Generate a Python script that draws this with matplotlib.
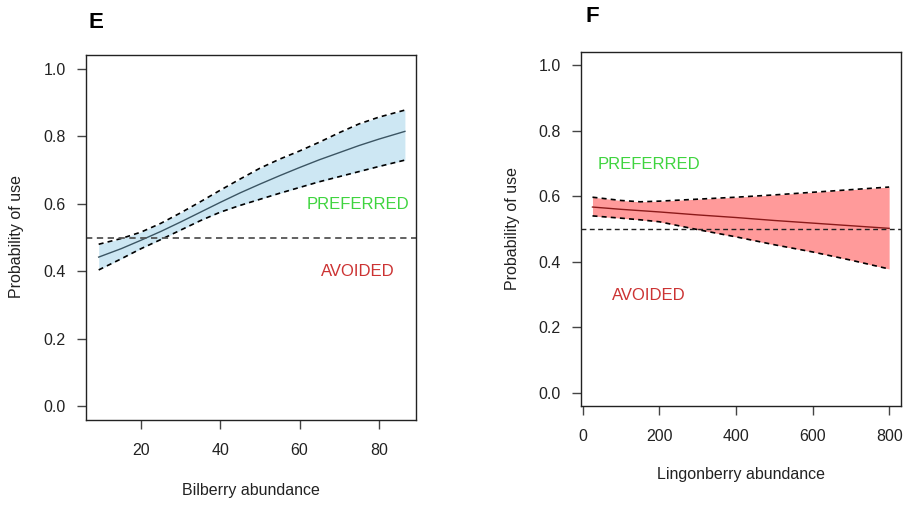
import matplotlib
matplotlib.use('Agg')
import matplotlib.pyplot as plt
import numpy as np

plt.rcParams['font.family'] = ['Liberation Sans', 'DejaVu Sans']

# panel E: bilberry
bil_x = [9.3, 15, 20, 25, 30, 35, 40, 45, 50, 55, 60, 65, 70, 75, 80, 86.6]
bil_fit = [0.442, 0.467, 0.492, 0.518, 0.546, 0.575, 0.604, 0.632, 0.658,
           0.683, 0.707, 0.730, 0.751, 0.772, 0.791, 0.814]
bil_up = [0.480, 0.497, 0.516, 0.542, 0.573, 0.606, 0.640, 0.673, 0.705,
          0.732, 0.756, 0.782, 0.810, 0.836, 0.856, 0.877]
bil_lo = [0.404, 0.437, 0.467, 0.494, 0.522, 0.550, 0.575, 0.595, 0.613,
          0.631, 0.648, 0.665, 0.680, 0.695, 0.710, 0.729]

# panel F: lingonberry
lin_x = [25, 100, 150, 200, 300, 400, 500, 600, 700, 800]
lin_fit = [0.567, 0.560, 0.556, 0.552, 0.543, 0.535, 0.526, 0.518, 0.510, 0.502]
lin_up = [0.597, 0.587, 0.583, 0.585, 0.591, 0.597, 0.604, 0.612, 0.620, 0.628]
lin_lo = [0.540, 0.533, 0.528, 0.522, 0.498, 0.476, 0.452, 0.430, 0.405, 0.378]

y_ticks = [0.0, 0.2, 0.4, 0.6, 0.8, 1.0]

W, H = 904, 505
fig = plt.figure(figsize=(W / 100, H / 100), dpi=100)

def box(l, t, r, b):
    return [l / W, 1 - b / H, (r - l) / W, (b - t) / H]

axE = fig.add_axes(box(86, 55, 416, 420))
axF = fig.add_axes(box(581, 52, 901, 406))

dash = (0, (3, 2.5))

def style(ax, xticks):
    ax.set_ylim(-0.04, 1.04)
    ax.set_yticks(y_ticks)
    ax.set_yticklabels(['%.1f' % v for v in y_ticks])
    ax.set_xticks(xticks)
    ax.tick_params(length=6.5, width=1, color='#444444', labelcolor='#222222',
                   labelsize=11.5)
    ax.tick_params(axis='y', pad=8)
    ax.tick_params(axis='x', pad=10)
    for s in ax.spines.values():
        s.set_color('#222222')
        s.set_linewidth(1)

# E
axE.fill_between(bil_x, bil_lo, bil_up, color='#cde7f3', lw=0)
axE.plot(bil_x, bil_up, color='black', ls=dash, lw=1.2)
axE.plot(bil_x, bil_lo, color='black', ls=dash, lw=1.2)
axE.plot(bil_x, bil_fit, color='#3b5563', lw=1)
axE.axhline(0.5, color='#555555', ls=(0, (3.5, 2.5)), lw=1.3)
axE.set_xlim(6.1, 89.4)
style(axE, [20, 40, 60, 80])
axE.text(74.7, 0.597, 'PREFERRED', color='#3fd43f', fontsize=12, ha='center', va='center')
axE.text(74.7, 0.398, 'AVOIDED', color='#cc3333', fontsize=12, ha='center', va='center')

# F
axF.fill_between(lin_x, lin_lo, lin_up, color='#ff9a9a', lw=0)
axF.plot(lin_x, lin_up, color='black', ls=dash, lw=1.2)
axF.plot(lin_x, lin_lo, color='black', ls=dash, lw=1.2)
axF.plot(lin_x, lin_fit, color='#8b1a1a', lw=1)
axF.axhline(0.5, color='#222222', ls=(0, (3.5, 2.5)), lw=1)
axF.set_xlim(-5, 831)
style(axF, [0, 200, 400, 600, 800])
axF.text(173, 0.696, 'PREFERRED', color='#3fd43f', fontsize=12, ha='center', va='center')
axF.text(173, 0.298, 'AVOIDED', color='#cc3333', fontsize=12, ha='center', va='center')

# labels
fig.text(17 / W, 1 - 237 / H, 'Probability of use', rotation=90, ha='center', va='center',
         fontsize=11.5, color='#222222')
fig.text(513 / W, 1 - 229 / H, 'Probability of use', rotation=90, ha='center', va='center',
         fontsize=11.5, color='#222222')
fig.text(251 / W, 1 - 491 / H, 'Bilberry abundance', ha='center', va='center',
         fontsize=11.5, color='#222222')
fig.text(741 / W, 1 - 475 / H, 'Lingonberry abundance', ha='center', va='center',
         fontsize=11.5, color='#222222')
fig.text(96 / W, 1 - 22 / H, 'E', ha='center', va='center', fontsize=16, fontweight='bold')
fig.text(592 / W, 1 - 17 / H, 'F', ha='center', va='center', fontsize=16, fontweight='bold')

fig.savefig('out.png', dpi=100)
